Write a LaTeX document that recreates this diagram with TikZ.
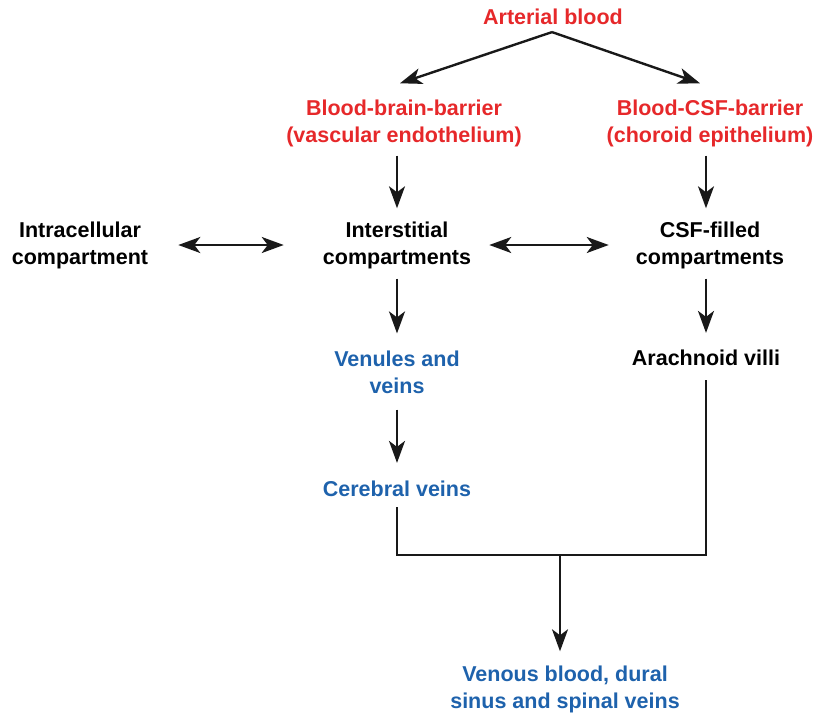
\documentclass[tikz,border=0pt]{standalone}
\usepackage{fontspec}
\setmainfont{Liberation Sans}
\usetikzlibrary{arrows.meta,calc}
\definecolor{myred}{RGB}{230,40,42}
\definecolor{myblue}{RGB}{30,98,172}
\begin{document}
\begin{tikzpicture}[x=1pt,y=-1pt,
  lbl/.style={align=center,inner sep=0pt,font=\fontsize{21.5}{27}\selectfont\bfseries},
  redt/.style={lbl,text=myred},
  bluet/.style={lbl,text=myblue},
  blackt/.style={lbl,text=black},
  ln/.style={line width=2.4pt,black!90},
  arr/.style={ln,-{Stealth[length=22pt,width=16pt,inset=6pt]}},
  darr/.style={ln,{Stealth[length=22pt,width=16pt,inset=6pt]}-{Stealth[length=22pt,width=16pt,inset=6pt]}}]
\useasboundingbox (0,0) rectangle (822,713);
\node[redt] (art) at (553,17) {Arterial blood};
\node[redt] (bbb) at (404,123) {Blood-brain-barrier\\(vascular endothelium)};
\node[redt] (bcsf) at (710,123) {Blood-CSF-barrier\\(choroid epithelium)};
\node[blackt] (intra) at (80,245) {Intracellular\\compartment};
\node[blackt] (inter) at (397,245) {Interstitial\\compartments};
\node[blackt] (csf) at (710,245) {CSF-filled\\compartments};
\node[bluet] (venu) at (397,372) {Venules and\\veins};
\node[blackt] (arach) at (706,358) {Arachnoid villi};
\node[bluet] (cer) at (397,489) {Cerebral veins};
\node[bluet] (ven) at (565,689) {Venous blood, dural\\sinus and spinal veins};
\coordinate (apex) at ($(art.south)+(-1,7)$);
\draw[arr] (apex) -- ($(bbb.north)+(-4,-16)$);
\draw[arr] (apex) -- ($(bcsf.north)+(-10,-16)$);
\draw[arr] ($(bbb.south -| inter.north)+(0,9)$) -- ($(inter.north)+(0,-13)$);
\draw[arr] ($(bcsf.south -| arach.north)+(0,9)$) -- ($(csf.north -| arach.north)+(0,-13)$);
\draw[darr] ($(intra.east)+(30,0)$) -- ($(inter.west)+(-39,0)$);
\draw[darr] ($(inter.east)+(18,0)$) -- ($(csf.west)+(-27,0)$);
\draw[arr] ($(inter.south)+(0,10)$) -- ($(venu.north)+(0,-17)$);
\draw[arr] ($(csf.south -| arach.north)+(0,10)$) -- ($(arach.north)+(0,-17)$);
\draw[arr] ($(venu.south)+(0,16)$) -- ($(cer.north)+(0,-18)$);
\coordinate (join) at (560,555);
\draw[ln] ($(cer.south)+(0,10)$) |- (join) -| ($(arach.south)+(0,14)$);
\draw[arr] (join) -- ($(join |- ven.north)+(0,-14)$);
\end{tikzpicture}
\end{document}
